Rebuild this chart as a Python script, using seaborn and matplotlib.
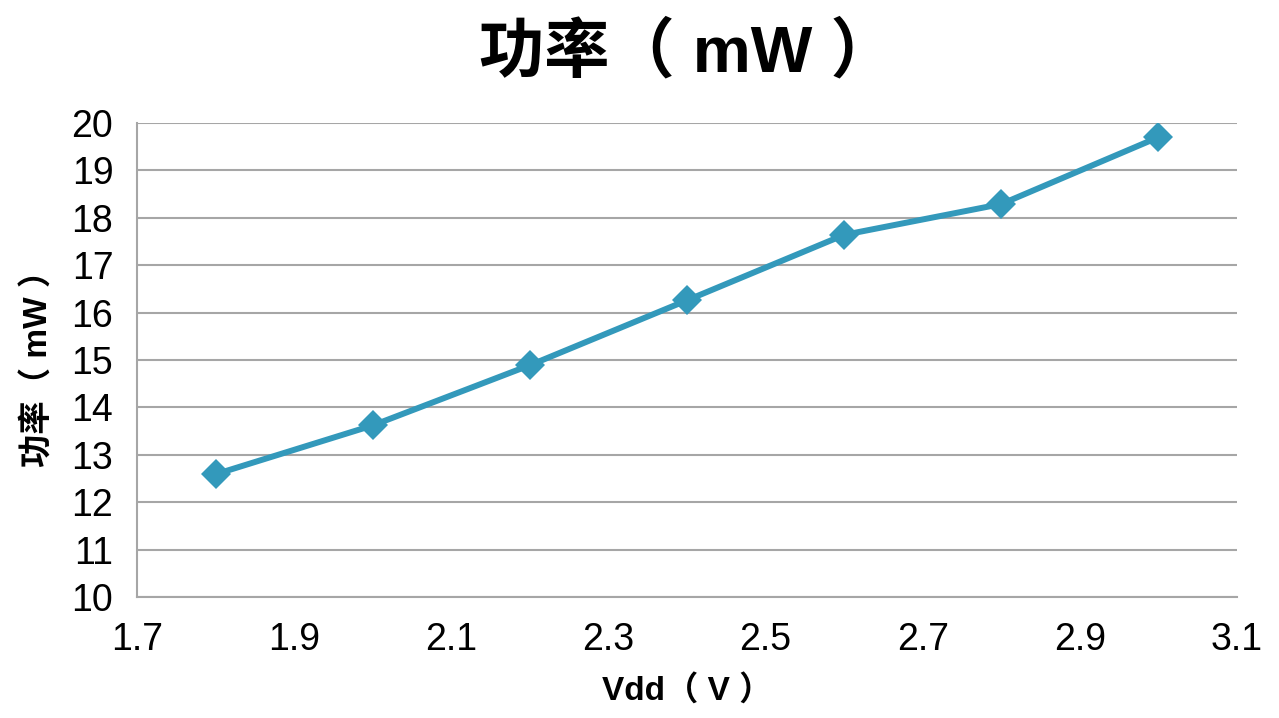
import matplotlib
matplotlib.use("Agg")
import matplotlib.pyplot as plt
import seaborn as sns
import pandas as pd

# DATA
vdd = [1.8, 2.0, 2.2, 2.4, 2.6, 2.8, 3.0]
power_mw = [12.59, 13.62, 14.89, 16.26, 17.64, 18.29, 19.70]
x_ticks = [1.7, 1.9, 2.1, 2.3, 2.5, 2.7, 2.9, 3.1]
y_ticks = list(range(10, 21))

title_text = "功率（ mW ）"
x_label = "Vdd（ V ）"
y_label = "功率（ mW ）"

df = pd.DataFrame({"vdd": vdd, "power": power_mw})

sns.set_style("white")
fonts = ["Liberation Sans", "Noto Sans CJK SC", "DejaVu Sans"]
plt.rcParams["font.family"] = fonts
plt.rcParams["text.color"] = "black"
plt.rcParams["axes.labelcolor"] = "black"

fig = plt.figure(figsize=(12.79, 7.18), dpi=100)
ax = fig.add_axes([0.1071, 0.1685, 0.8601, 0.6602])

grid_col = "#a6a6a6"
line_col = "#3399bb"

sns.lineplot(data=df, x="vdd", y="power", ax=ax, color=line_col, linewidth=4.3,
             marker="D", markersize=15, markeredgewidth=0, zorder=3)

ax.set_xlim(1.7, 3.1)
ax.set_ylim(10, 20)
ax.set_xticks(x_ticks)
ax.set_xticklabels([f"{t:.1f}" for t in x_ticks])
ax.set_yticks(y_ticks)

ax.yaxis.grid(True, color=grid_col, linewidth=1.5)
ax.xaxis.grid(False)
for side in ["top", "right"]:
    ax.spines[side].set_visible(False)
for side in ["left", "bottom"]:
    ax.spines[side].set_color(grid_col)
    ax.spines[side].set_linewidth(1.5)

ax.tick_params(axis="both", which="major", labelsize=27, labelcolor="black",
               length=10, width=1.5, direction="out", pad=4)
ax.tick_params(axis="x", color=grid_col, pad=8)
ax.tick_params(axis="y", color=grid_col, length=13, pad=4)

ax.set_xlabel(x_label, fontsize=24, family=fonts, fontweight="bold", labelpad=12)
ax.set_ylabel(y_label, fontsize=24, family=fonts, fontweight="bold", labelpad=12)
ax.set_title(title_text, fontsize=47, family=fonts, fontweight="bold", pad=37)

plt.savefig("out.png", dpi=100)
